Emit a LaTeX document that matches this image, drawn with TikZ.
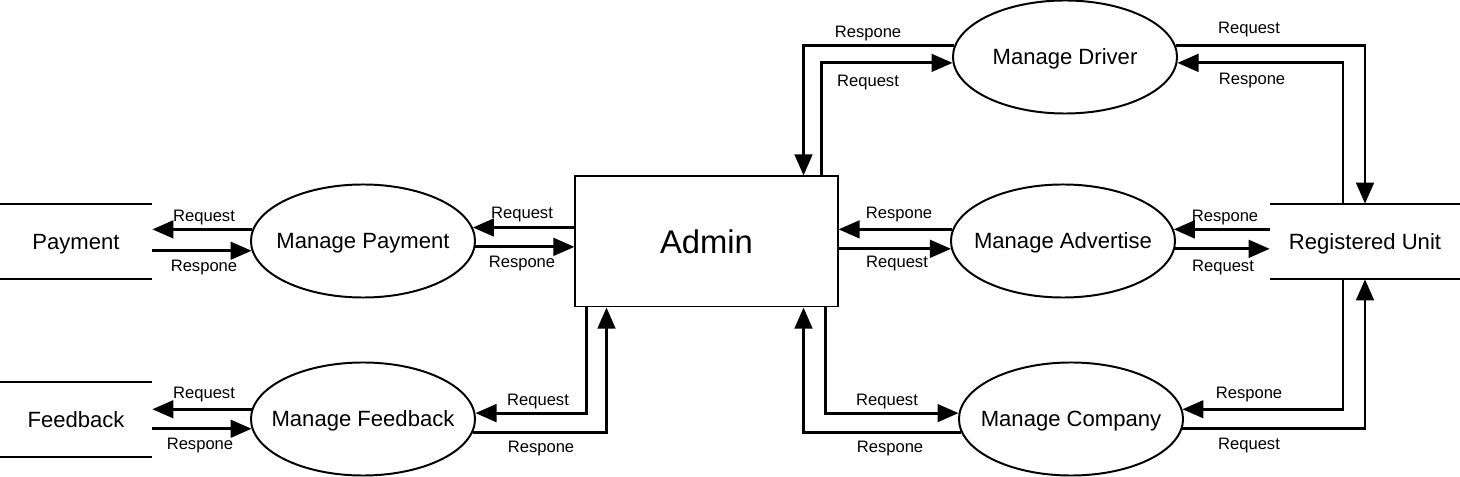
\documentclass[tikz,border=0pt]{standalone}
\usepackage{fontspec}
\setmainfont{Liberation Sans}
\usetikzlibrary{arrows.meta,shapes.geometric}

\tikzset{
	process/.style={ellipse, draw, line width=1.4pt, minimum width=5.6cm, minimum height=2.825cm,
		inner xsep=-10pt, inner ysep=0pt, text depth=0pt, font=\fontsize{15.7}{18}\selectfont},
	store/.style={minimum width=3.8cm, minimum height=1.875cm, inner sep=0pt, text depth=0pt,
		font=\fontsize{15.7}{18}\selectfont},
	entity/.style={rectangle, draw, line width=1.4pt, minimum width=6.55cm, minimum height=3.25cm,
		font=\fontsize{23.3}{28}\selectfont},
	flow/.style={line width=2.1pt, -{Triangle[length=15pt,width=12.5pt]}},
	storeline/.style={line width=1.4pt},
	lbl/.style={inner sep=0pt, text depth=0pt, font=\fontsize{11.8}{14}\selectfont}
}

\begin{document}
\begin{tikzpicture}[x=0.025cm, y=-0.025cm]
			\useasboundingbox (0,0) rectangle (1460,477);
			
			% data stores
			\node[store] (Pay) at (76,241.5) {Payment};
			\node[store] (Feed) at (76,419.5) {Feedback};
			\node[store, minimum width=4.75cm] (RU) at (1365,241.5) {Registered Unit};
			\foreach \s in {Pay,Feed,RU}
				\draw[storeline] (\s.north west) -- (\s.north east) (\s.south west) -- (\s.south east);
			
			% processes
			\node[entity] (Admin) at (706.5,241.5) {Admin};
			\node[process] (MP) at (363,241) {Manage Payment};
			\node[process] (MF) at (363,419) {Manage Feedback};
			\node[process] (MD) at (1065,57) {Manage Driver};
			\node[process] (MA) at (1063,241) {Manage Advertise};
			\node[process] (MC) at (1071,419) {Manage Company};
			
			% payment
			\draw[flow] (MP.174) -- (MP.174 -| Pay.east);
			\draw[flow] (Pay.east |- MP.185) -- (MP.185);
			\draw[flow] (Admin.west |- MP.7) -- (MP.7);
			\draw[flow] (MP.-3) -- (MP.-3 -| Admin.west);
			\node[lbl] (payreq) at (204,216) {Request};
			\node[lbl] (payres) at (204,266) {Respone};
			\node[lbl] (mpreq) at (522,213) {Request};
			\node[lbl] (mpres) at (522,262) {Respone};
			
			% feedback
			\draw[flow] (MF.175) -- (MF.175 -| Feed.east);
			\draw[flow] (Feed.east |- MF.185) -- (MF.185);
			\draw[flow] ([xshift=0.3cm]Admin.south west) |- (MF.3);
			\draw[flow] (MF.-7) -| ([xshift=0.8cm]Admin.south west);
			\node[lbl] (fbreq) at (204,393) {Request};
			\node[lbl] (fbres) at (200,444) {Respone};
			\node[lbl] (mfreq) at (538,400) {Request};
			\node[lbl] (mfres) at (541,447) {Respone};
			
			% driver
			\draw[flow] (MD.174) -| ([xshift=-0.875cm]Admin.north east);
			\draw[flow] ([xshift=-0.425cm]Admin.north east) |- (MD.183);
			\draw[flow] (MD.6) -| (RU.north);
			\draw[flow] ([xshift=-0.55cm]RU.north) |- (MD.-3);
			\node[lbl] (mdres) at (868,32) {Respone};
			\node[lbl] (mdreq) at (868,81) {Request};
			\node[lbl] (rudreq) at (1249,28) {Request};
			\node[lbl] (rudres) at (1252,79) {Respone};
			
			% advertise
			\draw[flow] (MA.174) -- (MA.174 -| Admin.east);
			\draw[flow] (Admin.east |- MA.184) -- (MA.184);
			\draw[flow] (RU.west |- MA.6) -- (MA.6);
			\draw[flow] (MA.-4) -- (MA.-4 -| RU.west);
			\node[lbl] (mares) at (899,213) {Respone};
			\node[lbl] (mareq) at (897,262) {Request};
			\node[lbl] (ruares) at (1225,216) {Respone};
			\node[lbl] (ruareq) at (1223,266) {Request};
			
			% company
			\draw[flow] ([xshift=-0.325cm]Admin.south east) |- (MC.177);
			\draw[flow] (MC.187) -| ([xshift=-0.875cm]Admin.south east);
			\draw[flow] ([xshift=-0.55cm]RU.south) |- (MC.5);
			\draw[flow] (MC.-5) -| (RU.south);
			\node[lbl] (mcreq) at (887,400) {Request};
			\node[lbl] (mcres) at (890,447) {Respone};
			\node[lbl] (rucres) at (1249,393) {Respone};
			\node[lbl] (rucreq) at (1249,444) {Request};
\end{tikzpicture}
\end{document}
